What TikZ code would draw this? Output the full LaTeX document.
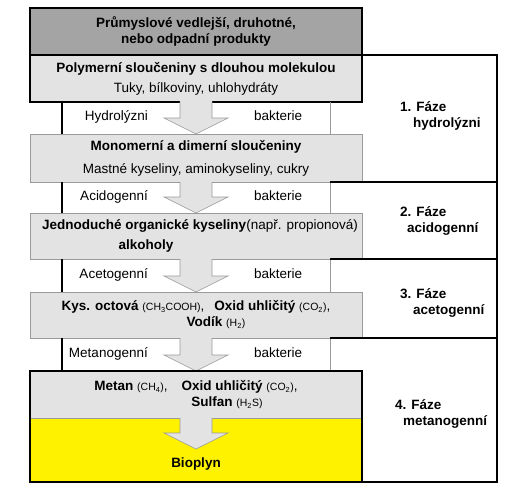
\documentclass[tikz,border=0pt]{standalone}
\usepackage{fontspec}
\setmainfont{Liberation Sans}
\usetikzlibrary{positioning,calc}
\definecolor{boxgray}{HTML}{E3E3E3}
\definecolor{topgray}{HTML}{A4A4A4}
\definecolor{edgegray}{HTML}{9A9A9A}
\newcommand{\fml}[1]{{\fontsize{10.5}{12}\selectfont #1}}

\begin{document}
\begin{tikzpicture}[
  x=1pt, y=1pt, node distance=0pt,
  font=\fontsize{13.5}{16}\selectfont,
  box/.style={rectangle, minimum width=332pt, inner sep=0pt, outer sep=0pt, align=center, fill=boxgray},
  tbox/.style={box, fill=topgray, draw=black, line width=1.6pt, font=\fontsize{13.5}{16}\selectfont\bfseries},
  kbox/.style={box, draw=black, line width=1.6pt},
  gbox/.style={box, draw=edgegray, line width=0.6pt},
  band/.style={rectangle, minimum width=268pt, inner sep=0pt, outer sep=0pt},
  blbl/.style={inner sep=0pt},
  flbl/.style={inner sep=0pt, anchor=west, align=left, font=\fontsize{13.5}{16}\selectfont\bfseries},
  thk/.style={line width=1.6pt},
  thn/.style={draw=edgegray, line width=0.6pt},
]
\useasboundingbox (0,0) rectangle (514,-501);

% Boxes, top to bottom
\node[tbox, minimum height=47pt] (src) at (196,-31.5) {Průmyslové vedlejší, druhotné,\\nebo odpadní produkty};
\node[kbox, minimum height=47pt, below=of src] (poly) {\textbf{Polymerní sloučeniny s dlouhou molekulou}\\[4pt]Tuky, bílkoviny, uhlohydráty};
\node[band, minimum height=32pt, below=of poly] (band1) {};
\node[gbox, minimum height=48pt, below=of band1] (mono) {\textbf{Monomerní a dimerní sloučeniny}\\[7pt]Mastné kyseliny, aminokyseliny, cukry};
\node[band, minimum height=31pt, below=of mono] (band2) {};
\node[gbox, minimum height=46pt, below=of band2] (jed) {\hspace*{8pt}\textbf{Jednoduché organické kyseliny}(např. propionová)\\[4pt]\textbf{alkoholy}\hspace*{100pt}};
\node[band, minimum height=33pt, below=of jed] (band3) {};
\node[gbox, minimum height=46pt, below=of band3] (kys) {\textbf{Kys. octová} \fml{(CH\textsubscript{3}COOH)},\hspace{10pt}\textbf{Oxid uhličitý} \fml{(CO\textsubscript{2})},\\\hspace*{40pt}\textbf{Vodík} \fml{(H\textsubscript{2})}};
\node[band, minimum height=33pt, below=of kys] (band4) {};
\node[box, minimum height=47pt, below=of band4] (metan) {\textbf{Metan} \fml{(CH\textsubscript{4})},\hspace{14pt}\textbf{Oxid uhličitý} \fml{(CO\textsubscript{2})},\\\hspace*{62pt}\textbf{Sulfan} \fml{(H\textsubscript{2}S)}};
\node[box, fill=yellow, minimum height=64pt, below=of metan] (bio) {};
\node[font=\fontsize{13.5}{16}\selectfont\bfseries] (biolbl) at ([yshift=-14pt]bio.center) {Bioplyn};
\draw[thn] (metan.south west) -- (metan.south east);
\coordinate (tip5) at ([yshift=-31pt]bio.north);

% Bands with bacteria labels
\foreach \b/\l in {band1/Hydrolýzni, band2/Acidogenní, band3/Acetogenní, band4/Metanogenní}{
  \draw[line width=1.2pt] (\b.north west) -- (\b.south west);
  \draw[thn] (\b.north east) -- (\b.south east);
  \node[blbl, anchor=mid east] (l\b) at ([xshift=86pt]\b.west) {\l};
  \node[blbl, anchor=mid west] (r\b) at ([xshift=-76pt]\b.east) {bakterie};
}

% Block arrows
\foreach \a/\t in {poly/band1.south, mono/band2.south, jed/band3.south, kys/band4.south, metan/tip5}{
  \fill[boxgray] ([xshift=-16pt,yshift=1pt]\a.south) -- ([xshift=-16pt,yshift=16pt]\t) -- ([xshift=-32pt,yshift=16pt]\t) -- (\t)
    -- ([xshift=32pt,yshift=16pt]\t) -- ([xshift=16pt,yshift=16pt]\t) -- ([xshift=16pt,yshift=1pt]\a.south) -- cycle;
  \draw[thn] ([xshift=-16pt]\a.south) -- ([xshift=-16pt,yshift=16pt]\t) -- ([xshift=-32pt,yshift=16pt]\t) -- (\t)
    -- ([xshift=32pt,yshift=16pt]\t) -- ([xshift=16pt,yshift=16pt]\t) -- ([xshift=16pt]\a.south);
}
\draw[thk] (metan.north west) rectangle (bio.south east);

% Phase column
\coordinate (pr) at ([xshift=135pt]poly.north east);
\draw[thk] (poly.north east) -- (pr) |- (bio.south east);
\foreach \b in {band2, band3, band4}
  \draw[thk] (\b.north east) -- (\b.north east -| pr);
\node[flbl] (f1) at ($(poly.north east)!.5!(mono.south east)+(38pt,3pt)$) {1. Fáze\\\hspace*{13pt}hydrolýzni};
\node[flbl] (f2) at ($(mono.south east)!.5!(jed.south east)+(38pt,0pt)$) {2. Fáze\\\hspace*{7pt}acidogenní};
\node[flbl] (f3) at ($(jed.south east)!.5!(kys.south east)+(38pt,-4.5pt)$) {3. Fáze\\\hspace*{13pt}acetogenní};
\node[flbl] (f4) at ($(kys.south east)!.5!(bio.south east)+(33pt,-4pt)$) {4. Fáze\\\hspace*{8pt}metanogenní};
\end{tikzpicture}
\end{document}
